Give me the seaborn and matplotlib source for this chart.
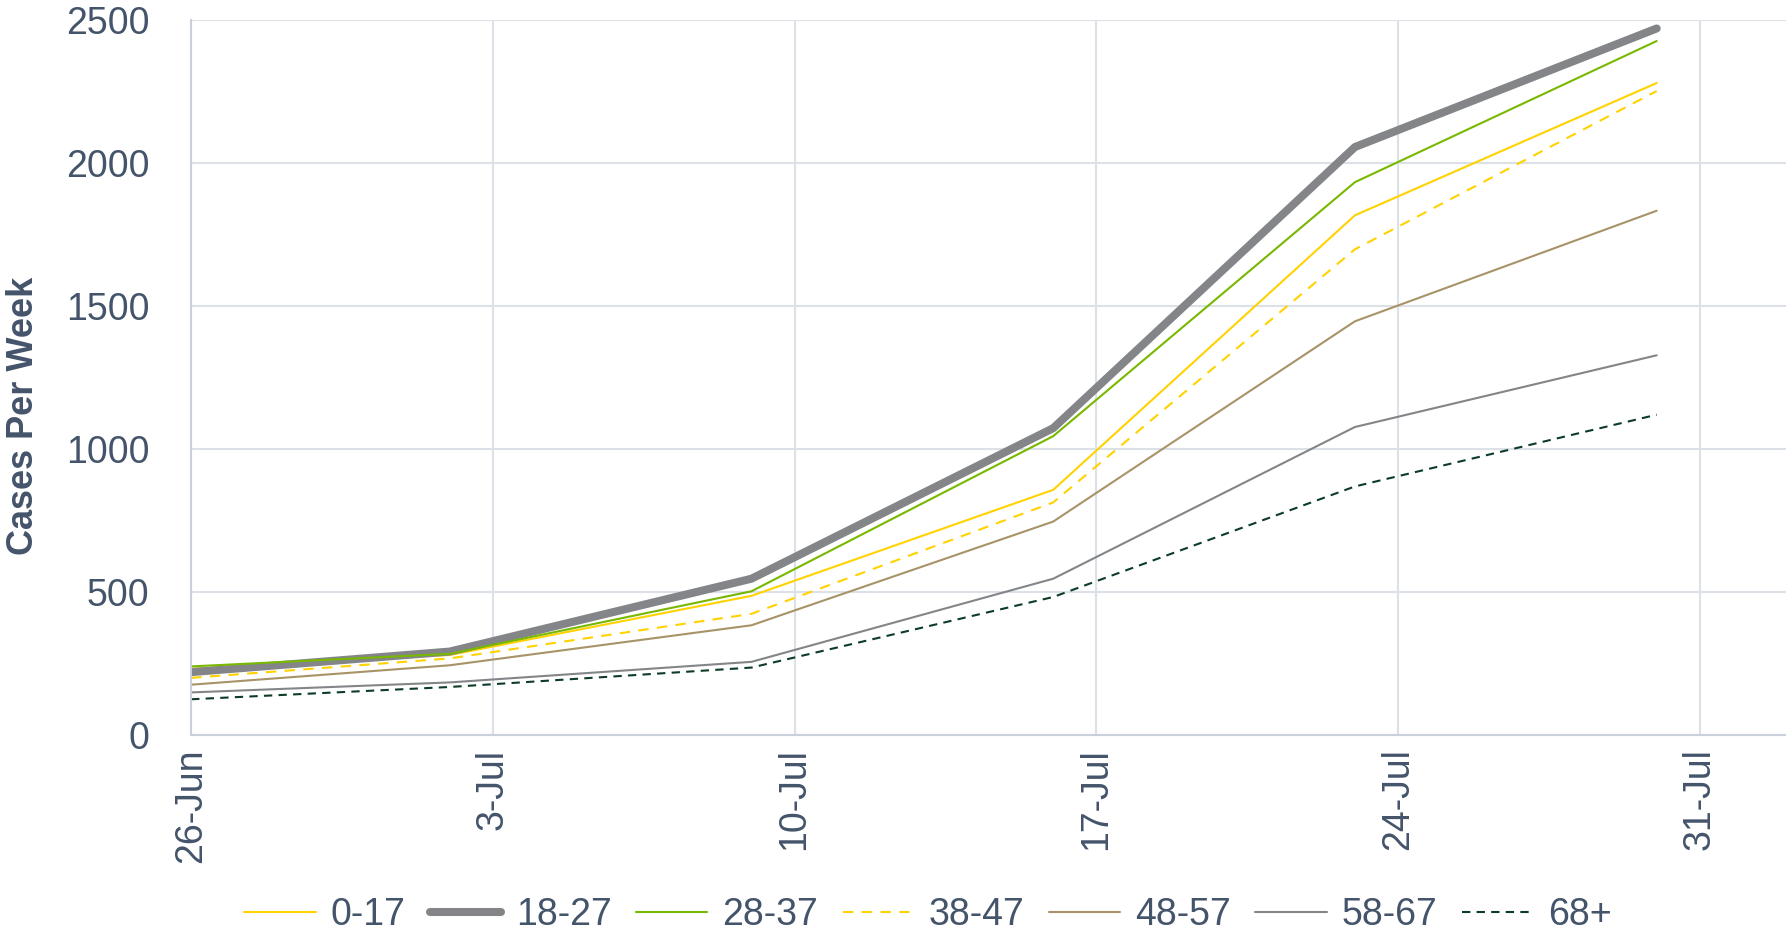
import matplotlib
matplotlib.use("Agg")
import matplotlib.pyplot as plt
import matplotlib.dates as mdates
import seaborn as sns
import pandas as pd

dates = ["2020-06-26", "2020-07-02", "2020-07-09", "2020-07-16", "2020-07-23", "2020-07-30"]
series_names = ["0-17", "18-27", "28-37", "38-47", "48-57", "58-67", "68+"]
v_0_17 = [231, 279, 486, 857, 1818, 2281]
v_18_27 = [219, 291, 546, 1073, 2057, 2472]
v_28_37 = [239, 283, 502, 1045, 1934, 2428]
v_38_47 = [199, 267, 423, 813, 1699, 2253]
v_48_57 = [175, 243, 383, 746, 1447, 1834]
v_58_67 = [148, 183, 255, 546, 1077, 1328]
v_68p = [124, 167, 235, 482, 869, 1120]
y_ticks = [0, 500, 1000, 1500, 2000, 2500]
x_ticks = ["2020-06-26", "2020-07-03", "2020-07-10", "2020-07-17", "2020-07-24", "2020-07-31"]

values = [v_0_17, v_18_27, v_28_37, v_38_47, v_48_57, v_58_67, v_68p]
colors = ["#FFD200", "#838588", "#78B800", "#FFD200", "#A89368", "#838588", "#0D3B2A"]
widths = [1.5, 5.8, 1.5, 1.5, 1.5, 1.5, 1.5]
styles = ["-", "-", "-", (0, (5, 4)), "-", "-", (0, (4, 3))]

sns.set_theme(style="white")
plt.rcParams["font.family"] = ["Liberation Sans", "DejaVu Sans"]
text_color = "#44546A"
grid_color = "#DCE1E8"

fig = plt.figure(figsize=(17.86, 9.30), dpi=100)
ax = fig.add_axes([0.107, 0.21, 0.893, 0.768])

x = pd.to_datetime(dates)
for name, vals, c, lw, ls in zip(series_names, values, colors, widths, styles):
    sns.lineplot(x=x, y=vals, ax=ax, color=c, linewidth=lw, linestyle=ls, label=name)

ax.set_ylim(0, 2500)
ax.set_yticks(y_ticks)
ax.set_xlim(pd.Timestamp("2020-06-26"), pd.Timestamp("2020-08-02"))
ax.set_xticks(pd.to_datetime(x_ticks))
ax.xaxis.set_major_formatter(mdates.DateFormatter("%-d-%b"))
ax.tick_params(axis="x", labelrotation=90, labelsize=27, colors=text_color, length=0, pad=10)
ax.tick_params(axis="y", labelsize=27, colors=text_color, length=0, pad=30)
for lab in ax.get_xticklabels():
    lab.set_color(text_color)

ax.grid(True, color=grid_color, linewidth=1.5)
ax.set_axisbelow(True)
for s in ["top", "right"]:
    ax.spines[s].set_visible(False)
for s in ["left", "bottom"]:
    ax.spines[s].set_color("#C9D0DA")
    ax.spines[s].set_linewidth(1.5)

ax.set_xlabel("")
ax.set_ylabel("Cases Per Week", fontsize=26, fontweight="bold", color=text_color)
ax.yaxis.set_label_coords(-0.094, 0.447)

leg = ax.legend(loc="lower center", bbox_to_anchor=(0.462, -0.325), ncol=7, frameon=False,
                fontsize=27, handlelength=1.9, handletextpad=0.4, columnspacing=0.65,
                bbox_transform=ax.transAxes)
for t in leg.get_texts():
    t.set_color(text_color)

fig.savefig("out.png", dpi=100)
